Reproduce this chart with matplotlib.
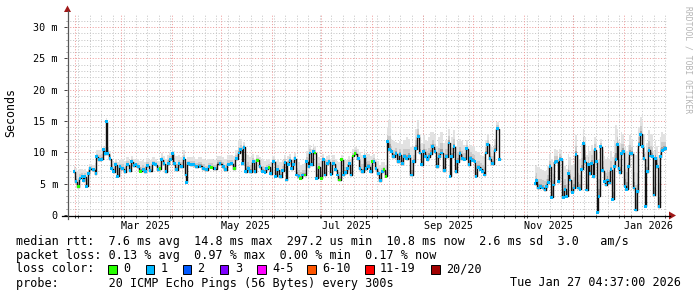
import datetime as dt
import numpy as np
import matplotlib
matplotlib.use("Agg")
import matplotlib.pyplot as plt
from matplotlib.patches import Rectangle, Polygon
from matplotlib.lines import Line2D

plt.rcParams["font.family"] = ["DejaVu Sans Mono"]

W, H = 697, 297
START = dt.datetime(2025, 1, 27, 4, 37)
SPAN_DAYS = 365

# ---------------- data (days since START, milliseconds) ----------------
days = [
    4.3, 5.5, 6.9, 7.9, 9.3, 9.9, 11.0, 12.0, 13.0, 14.0,
    16.0, 17.6, 18.0, 19.7, 21.1, 22.1, 23.5, 23.9, 24.7, 26.2,
    27.2, 28.2, 29.6, 30.8, 32.2, 33.9, 35.3, 36.9, 38.3, 39.4,
    40.8, 42.0, 43.4, 44.8, 46.4, 47.6, 49.1, 50.5, 52.5, 54.0,
    55.5, 56.6, 57.6, 59.0, 60.2, 61.6, 63.1, 64.1, 65.3, 66.7,
    68.1, 69.8, 71.2, 72.4, 72.8, 73.8, 75.3, 76.9, 78.9, 80.9,
    82.9, 85.0, 86.6,
    88.0, 90.0, 93.1, 95.1, 96.5, 98.1, 100.2, 101.8, 103.2, 104.6,
    105.7, 106.7, 107.7, 108.7, 110.3, 111.7, 113.4, 114.4, 115.8, 117.4,
    118.8, 120.5, 121.5, 122.9, 123.9, 125.5, 127.0, 128.2, 130.0, 131.2,
    132.6, 133.6, 134.6, 135.7, 136.7, 137.7, 138.7, 139.7, 141.1, 142.2,
    143.4, 144.8, 145.8, 147.2, 147.8, 148.9, 149.8, 150.9, 151.9, 153.3,
    154.9, 155.9, 157.0, 158.4, 159.4, 160.6, 162.0, 163.5, 164.4, 165.7,
    167.1, 168.1, 169.5, 170.7, 171.7, 172.8, 174.0, 175.2,
    177.2, 178.2, 179.9, 180.9, 181.9, 183.3, 184.8, 185.7, 186.8, 188.0,
    189.4, 190.8, 191.8, 192.8, 194.1, 194.9, 196.1, 197.5, 198.5, 200.1,
    201.6, 202.6, 204.0, 205.2, 206.7, 208.2, 209.7, 210.7, 212.1, 213.7,
    214.7, 215.8, 216.8, 218.2, 219.2, 220.2, 221.4, 222.5, 223.9, 225.3,
    226.5, 227.9, 229.5, 231.0, 232.4, 233.0, 234.0, 235.4, 236.6, 237.7,
    239.1, 240.5, 241.7, 243.2, 244.6, 245.6, 246.8, 248.2, 248.8, 250.2,
    251.7, 252.9, 253.9, 254.9, 255.9, 257.3, 259.0, 260.4, 262.0, 263.0,
    263.6, 284.1,
    284.7, 285.7, 286.7, 288.2, 289.4, 290.8, 291.8, 292.8, 293.8, 294.9,
    295.9, 296.9, 297.9, 298.9, 299.9, 300.9, 301.9, 303.0, 304.0, 305.0,
    306.0, 307.4, 308.4, 309.7, 311.1, 312.1, 313.1, 314.1, 315.1, 316.2,
    317.2, 318.2, 319.2, 320.2, 321.2, 322.2, 322.8, 323.6, 324.7, 325.9,
    326.9, 327.9, 328.9, 329.9, 330.9, 332.0, 333.0, 334.0, 335.0, 335.8,
    336.4, 337.4, 338.4, 339.5, 340.5, 341.5, 342.5, 343.5, 344.9, 346.0,
    346.9, 348.0, 349.0, 350.0, 351.0, 352.0, 353.0, 354.1, 355.1, 356.1,
    357.1, 358.1, 359.1, 360.1, 361.1, 362.1, 363.2, 364.2,
]

median_ms = [
    6.9, 5.3, 4.5, 5.85, 6.1, 5.5, 6.1, 4.6, 6.6, 7.4,
    7.2, 6.6, 9.3, 8.8, 8.9, 10.4, 9.8, 14.9, 9.8, 9.0,
    7.4, 6.9, 8.0, 6.2, 7.7, 7.4, 6.9, 8.0, 7.1, 8.5,
    7.9, 8.0, 7.7, 7.0, 7.3, 6.9, 7.9, 7.1, 8.2, 8.0,
    7.2, 7.4, 8.8, 8.2, 6.9, 8.2, 8.9, 9.8, 8.2, 7.2,
    8.2, 7.7, 9.0, 6.4, 5.2, 8.2, 8.0, 8.0, 7.7, 7.8,
    7.4, 7.2, 7.7,
    7.6, 7.4, 8.2, 7.7, 7.2, 8.1, 8.2, 7.4, 9.0, 9.9,
    10.4, 8.2, 10.8, 6.9, 7.4, 6.9, 8.5, 6.9, 8.7, 7.7,
    7.0, 6.8, 7.4, 7.6, 6.6, 8.5, 6.2, 7.2, 6.1, 7.1,
    8.4, 5.6, 8.1, 8.7, 7.4, 8.1, 9.0, 6.4, 6.1, 5.85,
    6.4, 6.4, 8.5, 7.7, 9.9, 8.0, 10.1, 9.9, 5.85, 7.6,
    5.85, 8.8, 6.4, 8.2, 8.5, 6.5, 8.2, 7.2, 6.4, 5.6,
    8.8, 6.4, 6.75, 7.4, 8.2, 6.4, 9.4, 9.8,
    9.0, 7.4, 6.9, 9.3, 7.4, 7.7, 6.9, 8.5, 8.5, 7.4,
    6.6, 5.5, 6.9, 7.2, 6.2, 11.7, 10.4, 10.1, 9.3, 9.8,
    8.5, 9.6, 8.2, 9.3, 9.0, 9.3, 6.4, 8.5, 10.6, 12.5,
    9.9, 8.0, 10.1, 9.3, 8.8, 9.3, 9.8, 10.9, 10.1, 7.7,
    9.3, 9.9, 7.1, 9.3, 11.5, 6.2, 9.3, 10.9, 6.9, 8.5,
    9.8, 9.0, 8.9, 10.6, 8.0, 9.0, 8.7, 8.5, 6.2, 7.6,
    7.3, 6.9, 6.4, 9.9, 11.3, 9.0, 8.2, 10.3, 13.8, 8.9,
    None, None,
    5.0, 5.5, 4.3, 4.5, 4.3, 4.0, 4.5, 5.2, 7.7, 2.8,
    4.8, 8.4, 8.5, 5.3, 8.9, 8.8, 2.8, 4.1, 3.0, 6.6,
    5.6, 3.6, 4.3, 9.6, 4.3, 4.1, 7.3, 11.4, 8.5, 4.0,
    8.0, 6.6, 8.2, 6.1, 10.4, 8.5, 0.4, 3.0, 10.9, 7.1,
    5.3, 4.8, 5.6, 5.1, 7.2, 2.5, 7.7, 8.9, 11.2, 7.4,
    6.75, 9.8, 10.1, 4.6, 4.1, 7.7, 9.8, 9.8, 4.3, 0.8,
    3.7, 11.2, 12.9, 10.9, 9.0, 1.4, 6.9, 10.3, 9.4, 9.3,
    3.2, 9.0, 7.7, 1.3, 9.3, 10.3, 10.5, 10.6,
]

smoke_top_ms = [
    7.8, 7.5, 7.0, 7.3, 7.4, 7.2, 7.4, 7.0, 7.6, 8.2,
    8.0, 8.3, 10.3, 10.4, 10.6, 11.0, 10.8, 15.5, 10.9, 10.2,
    9.0, 8.5, 9.0, 8.4, 8.8, 8.9, 8.6, 9.2, 8.7, 9.4,
    9.0, 8.8, 8.9, 8.6, 8.8, 8.5, 9.1, 8.8, 9.2, 9.0,
    8.6, 8.6, 9.9, 9.4, 8.8, 9.6, 10.0, 10.8, 10.2, 9.4,
    9.5, 9.3, 10.4, 9.0, 8.5, 9.2, 9.3, 9.2, 9.0, 9.3,
    9.0, 8.7, 9.0,
    9.0, 8.8, 9.4, 9.3, 9.0, 9.5, 9.6, 9.4, 10.3, 12.0,
    12.2, 11.0, 11.6, 9.8, 9.6, 9.2, 9.8, 9.0, 9.6, 9.2,
    8.8, 8.6, 8.8, 8.9, 8.4, 9.4, 8.6, 8.9, 8.5, 8.8,
    9.6, 8.6, 9.4, 9.8, 9.0, 9.2, 9.9, 8.8, 8.4, 8.0,
    8.2, 8.3, 10.2, 10.8, 11.2, 10.6, 11.4, 11.0, 9.5, 9.2,
    8.6, 9.8, 8.8, 9.4, 9.6, 8.9, 9.5, 9.0, 8.6, 8.4,
    9.6, 8.8, 8.8, 9.0, 9.4, 9.0, 10.6, 10.9,
    10.6, 10.0, 9.6, 10.6, 9.8, 9.8, 9.4, 9.6, 9.8, 9.0,
    8.6, 8.0, 8.4, 8.4, 8.0, 14.0, 15.2, 12.2, 11.8, 11.7,
    11.5, 11.8, 11.4, 12.0, 12.5, 12.2, 10.8, 11.0, 13.8, 15.2,
    13.0, 11.5, 12.8, 12.0, 11.8, 12.5, 13.3, 13.3, 12.8, 11.0,
    12.5, 13.3, 11.5, 12.0, 13.8, 11.0, 12.5, 13.6, 11.0, 11.8,
    12.2, 11.8, 11.2, 12.0, 11.0, 11.2, 11.0, 10.8, 10.2, 10.0,
    9.6, 9.4, 9.2, 12.0, 12.8, 11.2, 10.8, 12.2, 14.9, 10.4,
    None, None,
    7.8, 8.0, 7.6, 7.4, 7.2, 7.0, 7.2, 7.8, 9.8, 9.0,
    8.5, 10.6, 10.4, 9.0, 10.6, 10.2, 8.6, 7.8, 7.4, 9.8,
    9.2, 8.0, 8.2, 12.8, 9.6, 9.0, 11.4, 13.8, 12.5, 9.6,
    10.8, 10.2, 11.2, 10.6, 12.4, 11.7, 10.0, 9.0, 12.2, 10.4,
    9.4, 9.0, 9.2, 9.0, 10.2, 9.2, 12.0, 14.4, 13.8, 12.0,
    11.5, 13.3, 13.0, 10.8, 10.2, 11.2, 12.8, 12.2, 10.0, 9.6,
    10.5, 14.0, 15.7, 14.8, 13.0, 10.0, 11.5, 13.6, 13.0, 12.8,
    10.2, 12.0, 11.0, 9.6, 12.4, 13.3, 13.0, 12.8,
]

# samples with 0 lost pings (green); all others had 1 lost ping (cyan)
green_days = [6.9, 44.8, 56.6, 88.0, 101.8, 115.8, 122.9, 142.2, 144.8,
              150.9, 153.3, 154.9, 165.7, 167.1, 174.0, 175.2, 185.7,
              192.8, 194.1]

y_ticks = [0, 5, 10, 15, 20, 25, 30]
y_tick_labels = ["0", "5 m", "10 m", "15 m", "20 m", "25 m", "30 m"]
x_label_months = [(2025, 3), (2025, 5), (2025, 7), (2025, 9), (2025, 11), (2026, 1)]
x_tick_labels = ["Mar 2025", "May 2025", "Jul 2025", "Sep 2025", "Nov 2025", "Jan 2026"]

row_rtt = "median rtt:  7.6 ms avg  14.8 ms max  297.2 us min  10.8 ms now  2.6 ms sd  3.0   am/s"
row_loss = "packet loss: 0.13 % avg  0.97 % max  0.00 % min  0.17 % now"
row_probe = "probe:       20 ICMP Echo Pings (56 Bytes) every 300s"
row_date = "Tue Jan 27 04:37:00 2026"
loss_labels = ["0", "1", "2", "3", "4-5", "6-10", "11-19", "20/20"]
loss_colors = ["#26ff00", "#00b8ff", "#0059ff", "#7e00ff", "#ff00ff",
               "#ff5500", "#ff0000", "#a00000"]

# ---------------- helpers ----------------
def day_of(d):
    return (d - START).total_seconds() / 86400.0

def fx(x):
    return x / W

def fy(y):
    return 1 - y / H

# ---------------- figure ----------------
fig = plt.figure(figsize=(W / 100, H / 100), dpi=100, facecolor="white")
ax = fig.add_axes([fx(67), fy(215), 600 / W, (215 - 14.5) / H])
ax.set_xlim(0, SPAN_DAYS)
ax.set_ylim(0, 32)
ax.set_facecolor("white")
for s in ax.spines.values():
    s.set_visible(False)

dot = (0, (1, 1.8))
GRID_GRAY = "#c4c4c4"
GRID_RED = "#ee9a9a"
# horizontal grid
for v in range(1, 32):
    if v % 5:
        ax.axhline(v, color=GRID_GRAY, lw=0.72, ls=dot, zorder=0.5)
for v in y_ticks[1:]:
    ax.axhline(v, color=GRID_RED, lw=0.72, ls=dot, zorder=0.6)

# vertical grid: weeks (Mondays) and months
weeks = []
d = dt.datetime(2025, 2, 3)
while d < START + dt.timedelta(days=SPAN_DAYS):
    weeks.append(day_of(d))
    d += dt.timedelta(days=7)
months = []
y, m = 2025, 2
while True:
    dd = dt.datetime(y, m, 1)
    if dd > START + dt.timedelta(days=SPAN_DAYS):
        break
    months.append(day_of(dd))
    m += 1
    if m > 12:
        m, y = 1, y + 1
for w in weeks:
    ax.axvline(w, color=GRID_GRAY, lw=0.72, ls=dot, zorder=0.5)
for mo in months:
    ax.axvline(mo, color=GRID_RED, lw=0.72, ls=dot, zorder=0.6)

# ---------------- data layers ----------------
x = np.array(days, dtype=float)
med = np.array([np.nan if v is None else v for v in median_ms], dtype=float)
top = np.array([np.nan if v is None else v for v in smoke_top_ms], dtype=float)
spread = top - med

ax.fill_between(x, med - 0.1, top, step="mid", color="#e2e2e2", lw=0, zorder=1)
ax.fill_between(x, med, med + 0.45 * spread, step="mid", color="#cacaca", lw=0, zorder=1.1)
ax.fill_between(x, med, med + 0.18 * spread, step="mid", color="#a2a2a2", lw=0, zorder=1.2)

ax.step(x, med, where="mid", color="#111111", lw=1.0, zorder=2)

valid = ~np.isnan(med)
gset = set(green_days)
cols = [loss_colors[0] if dd in gset else loss_colors[1] for dd in x[valid]]
ax.scatter(x[valid], med[valid], s=4, marker="s", c=cols, linewidths=0, zorder=3)

# ---------------- ticks ----------------
label_pos = [day_of(dt.datetime(yy, mm, 16)) for yy, mm in x_label_months]
ax.set_xticks(label_pos, x_tick_labels)
ax.set_xticks(sorted(weeks + months), minor=True)
ax.tick_params(axis="x", which="major", length=0, pad=4, labelsize=7.3)
ax.tick_params(axis="x", which="minor", length=2, width=0.7, color="#444444")
ax.set_yticks(y_ticks, y_tick_labels)
ax.set_yticks([v for v in range(0, 32) if v % 5], minor=True)
ax.tick_params(axis="y", which="major", length=2, width=0.7, color="#444444",
               pad=4.5, labelsize=7.3)
ax.tick_params(axis="y", which="minor", length=1, width=0.7, color="#888888")

# ---------------- axes lines with arrows ----------------
fig.add_artist(Line2D([fx(62), fx(670)], [fy(215.5), fy(215.5)],
                      transform=fig.transFigure, color="#000000", lw=0.9))
fig.add_artist(Line2D([fx(67.5), fx(67.5)], [fy(219), fy(11)],
                      transform=fig.transFigure, color="#555555", lw=0.9))
fig.add_artist(Polygon([(fx(669), fy(211.5)), (fx(669), fy(219.5)), (fx(676), fy(215.5))],
                       closed=True, transform=fig.transFigure, color="#a01818", lw=0))
fig.add_artist(Polygon([(fx(64), fy(12)), (fx(71), fy(12)), (fx(67.5), fy(5.5))],
                       closed=True, transform=fig.transFigure, color="#a01818", lw=0))

# ---------------- text ----------------
fig.text(fx(11), fy(113), "Seconds", rotation=90, ha="center", va="center", fontsize=8.4)
fig.text(fx(688), fy(60), "RRDTOOL / TOBI OETIKER", rotation=270, ha="center",
         va="center", fontsize=5.8, color="#b4b4b4")

LEG = 8.5
fig.text(fx(16), fy(241), row_rtt, ha="left", va="center", fontsize=LEG)
fig.text(fx(16), fy(255), row_loss, ha="left", va="center", fontsize=LEG)
fig.text(fx(16), fy(269), "loss color:", ha="left", va="center", fontsize=LEG)
fig.text(fx(16), fy(283), row_probe, ha="left", va="center", fontsize=LEG)
fig.text(fx(681), fy(283), row_date, ha="right", va="center", fontsize=LEG)

box_x = [108, 145.5, 182.5, 220, 257, 307, 365, 431]
for bx, lab, col in zip(box_x, loss_labels, loss_colors):
    fig.add_artist(Rectangle((fx(bx), fy(273.5)), 8.5 / W, 8.5 / H,
                             transform=fig.transFigure, facecolor=col,
                             edgecolor="black", lw=0.7))
    fig.text(fx(bx + 15), fy(269), lab, ha="left", va="center", fontsize=LEG)

fig.savefig("out.png", dpi=100, facecolor="white")
